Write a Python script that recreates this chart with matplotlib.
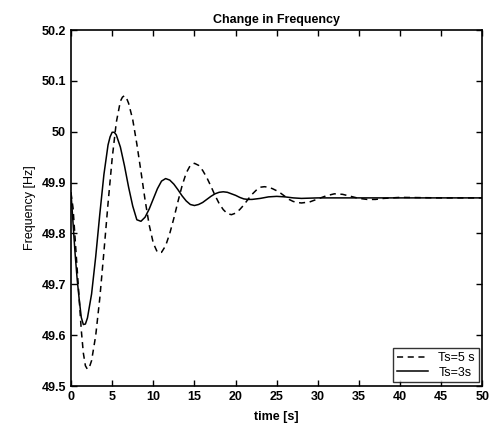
import matplotlib
matplotlib.use("Agg")
import matplotlib.pyplot as plt

# Ts = 3 s (solid)
t_3s = [0, 0.25, 0.5, 0.75, 1.0, 1.25, 1.5, 1.75, 2.0, 2.5, 3.0, 3.5, 4.0, 4.5,
        4.75, 5.0, 5.25, 5.5, 6.0, 6.5, 7.0,
        7.5, 8.0, 8.5, 9.0, 9.5, 10.0, 10.5, 11.0, 11.5, 12.0, 12.5, 13.0, 13.5,
        14.0, 14.5, 15.0, 15.5, 16.0, 16.5, 17.0, 17.5, 18.0, 18.5, 19.0, 19.5,
        20.0, 20.5, 21.0, 21.5, 22, 23, 24, 25, 26, 27, 28, 30, 35, 40, 50]
f_3s = [49.88, 49.82, 49.76, 49.71, 49.67, 49.635, 49.621, 49.622, 49.634, 49.681,
        49.754, 49.838, 49.916, 49.974, 49.990,
        49.999, 49.999, 49.994, 49.970, 49.933, 49.891, 49.854, 49.827, 49.824, 49.832,
        49.848, 49.868, 49.888, 49.903, 49.908, 49.905, 49.897, 49.886, 49.874,
        49.864, 49.857, 49.855, 49.857, 49.861, 49.867, 49.873, 49.878, 49.881,
        49.882, 49.881, 49.878, 49.875, 49.871, 49.868, 49.867, 49.867, 49.869,
        49.872, 49.873, 49.872, 49.870, 49.869, 49.870, 49.870, 49.870, 49.870]

# Ts = 5 s (dashed)
t_5s = [0, 0.25, 0.5, 0.75, 1.0, 1.25, 1.5, 1.75, 2.0, 2.25, 2.5, 3.0, 3.5, 4.0,
        4.5, 5.0, 5.5, 6.0, 6.25, 6.5, 6.75, 7.0,
        7.5, 8.0, 8.5, 9.0, 9.5, 10.0, 10.5, 11.0, 11.5, 12.0, 12.5, 13.0, 13.5,
        14.0, 14.5, 15.0, 15.5, 16.0, 16.5, 17.0, 17.5, 18.0, 18.5, 19.0, 19.5,
        20.0, 20.5, 21.0, 21.5, 22.0, 22.5, 23.0, 23.5, 24.0, 24.5, 25.0, 25.5,
        26.0, 26.5, 27.0, 27.5, 28, 29, 30, 31, 32, 33, 34, 35, 36, 37, 38, 40,
        45, 50]
f_5s = [49.88, 49.85, 49.79, 49.73, 49.67, 49.61, 49.565, 49.54, 49.533, 49.538,
        49.550, 49.599, 49.673, 49.764, 49.859,
        49.947, 50.018, 50.060, 50.068, 50.071, 50.066, 50.056, 50.024, 49.976, 49.922, 49.866,
        49.817, 49.781, 49.763, 49.763, 49.776, 49.800, 49.830, 49.863, 49.894,
        49.919, 49.934, 49.938, 49.934, 49.924, 49.910, 49.893, 49.875, 49.859,
        49.847, 49.839, 49.837, 49.840, 49.847, 49.856, 49.867, 49.877, 49.885,
        49.891, 49.892, 49.891, 49.888, 49.884, 49.879, 49.873, 49.867, 49.863,
        49.861, 49.860, 49.862, 49.868, 49.874, 49.878, 49.877, 49.873, 49.869,
        49.867, 49.867, 49.869, 49.871, 49.870, 49.870]

x_ticks = [0, 5, 10, 15, 20, 25, 30, 35, 40, 45, 50]
y_ticks = [49.5, 49.6, 49.7, 49.8, 49.9, 50.0, 50.1, 50.2]
y_labels = ["49.5", "49.6", "49.7", "49.8", "49.9", "50", "50.1", "50.2"]

plt.rcParams["font.family"] = ["Liberation Sans", "DejaVu Sans"]

fig = plt.figure(figsize=(4.91, 4.29), dpi=100)
ax = fig.add_axes([0.1446, 0.100, 0.838, 0.830])

ax.plot(t_5s, f_5s, color="black", linestyle=(0, (4, 3)), linewidth=1.1, label="Ts=5 s")
ax.plot(t_3s, f_3s, color="black", linestyle="-", linewidth=1.1, label="Ts=3s")

ax.set_xlim(0, 50)
ax.set_ylim(49.5, 50.2)
ax.set_xticks(x_ticks)
ax.set_yticks(y_ticks)
ax.set_yticklabels(y_labels)
ax.tick_params(direction="in", top=True, right=True, length=4, labelsize=9, width=1)
for lbl in ax.get_xticklabels() + ax.get_yticklabels():
    lbl.set_fontweight("bold")
for s in ax.spines.values():
    s.set_linewidth(1.2)

ax.set_title("Change in Frequency", fontsize=9, fontweight="bold", pad=5)
ax.set_xlabel("time [s]", fontsize=9, fontweight="bold", labelpad=6)
ax.set_ylabel("Frequency [Hz]", fontsize=9, labelpad=4)

leg = ax.legend(loc="lower right", fontsize=9, frameon=True, fancybox=False,
                edgecolor="black", handlelength=2.5, borderaxespad=0.3,
                borderpad=0.3, labelspacing=0.2)
leg.get_frame().set_linewidth(1.0)

fig.savefig("out.png", dpi=100)
